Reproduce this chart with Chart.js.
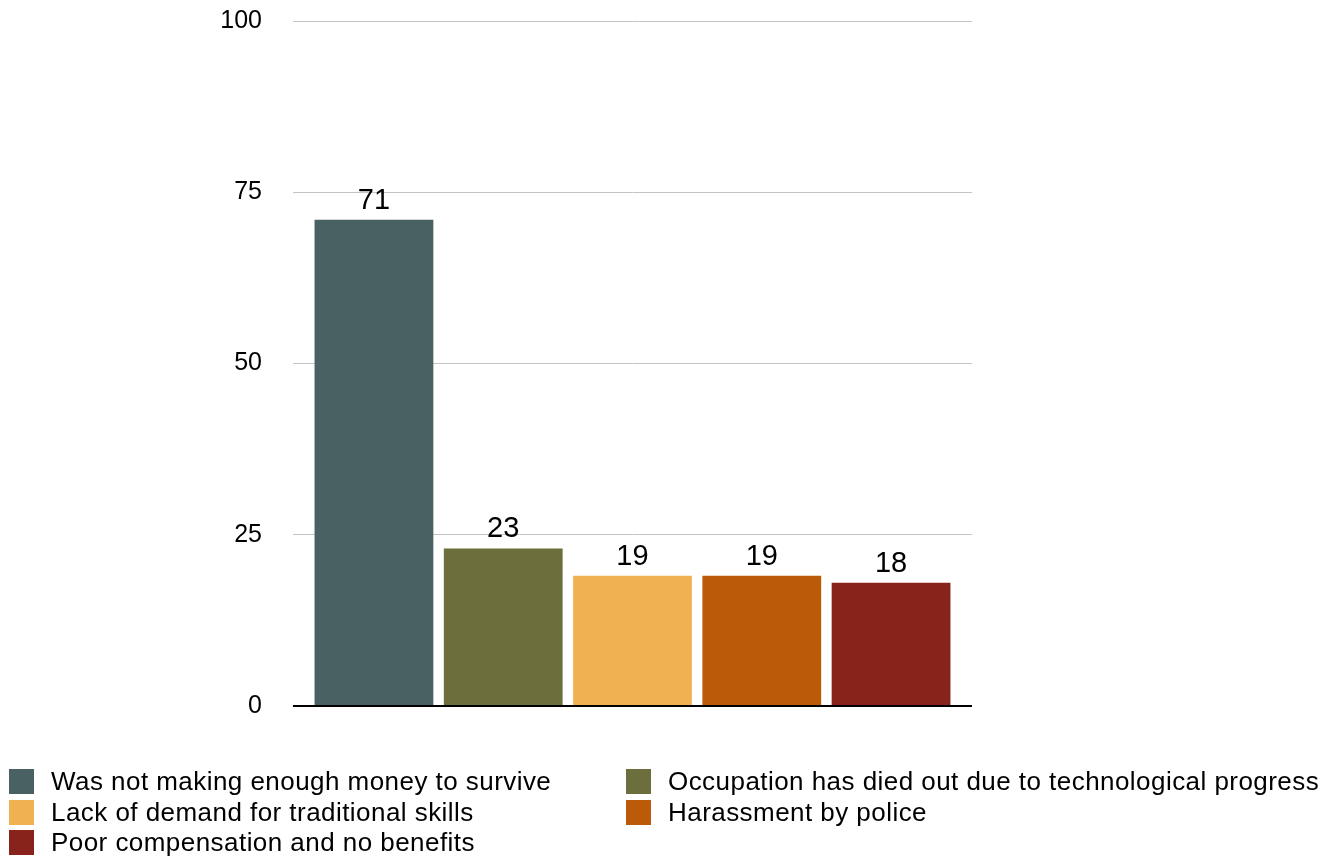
<!DOCTYPE html>
<html>
<head>
<meta charset="utf-8">
<script src="https://cdn.jsdelivr.net/npm/chart.js@4"></script>
<style>
  html, body { margin: 0; padding: 0; background: #fff; }
  #wrap { position: relative; width: 1341px; height: 860px; }
  canvas { position: absolute; left: 0; top: 0; }
  #legend { position: absolute; left: 0; top: 0; width: 1341px; height: 860px; pointer-events: none;
    font-family: "Liberation Sans", Arial, Helvetica, sans-serif; font-size: 26px; letter-spacing: 0.45px; color: #000; }
  .item { position: absolute; display: flex; align-items: center; height: 25px; white-space: nowrap; }
  .sw { width: 25px; height: 25px; margin-right: 17px; flex: none; }
</style>
</head>
<body>
<div id="wrap">
  <canvas id="c" width="1341" height="860"></canvas>
  <div id="legend"></div>
</div>
<script>
const categories = ['Reasons'];
const seriesLabels = [
  'Was not making enough money to survive',
  'Occupation has died out due to technological progress',
  'Lack of demand for traditional skills',
  'Harassment by police',
  'Poor compensation and no benefits'
];
const seriesValues = [71, 23, 19, 19, 18];
const seriesColors = ['#4a6163', '#6c6f3b', '#f0b250', '#bb5b09', '#88231c'];
const yTicks = [0, 25, 50, 75, 100];

const FONT = '"Liberation Sans", Arial, Helvetica, sans-serif';

const valueLabels = {
  id: 'valueLabels',
  afterDatasetsDraw(chart) {
    const ctx = chart.ctx;
    ctx.save();
    ctx.font = '29px ' + FONT;
    ctx.fillStyle = '#000';
    ctx.textAlign = 'center';
    ctx.textBaseline = 'alphabetic';
    chart.data.datasets.forEach((ds, i) => {
      const el = chart.getDatasetMeta(i).data[0];
      ctx.fillText(String(ds.data[0]), el.x, el.y - 11);
    });
    ctx.restore();
  }
};

new Chart(document.getElementById('c'), {
  type: 'bar',
  data: {
    labels: categories,
    datasets: seriesLabels.map((l, i) => ({
      label: l,
      data: [seriesValues[i]],
      backgroundColor: seriesColors[i],
      borderWidth: 0,
      categoryPercentage: 0.952,
      barPercentage: 0.919
    }))
  },
  options: {
    responsive: false,
    animation: false,
    layout: { padding: { left: 0, right: 369, top: 21, bottom: 154 } },
    plugins: { legend: { display: false }, tooltip: { enabled: false } },
    scales: {
      x: { display: false },
      y: {
        min: 0, max: 100,
        afterBuildTicks(scale) { scale.ticks = yTicks.map(v => ({ value: v })); },
        afterFit(scale) { scale.width = 293; scale.paddingTop = 0; scale.paddingBottom = 0; },
        border: { display: false },
        grid: {
          drawTicks: false,
          color: c => (c.tick && c.tick.value === 0) ? '#000' : '#c4c4c4',
          lineWidth: c => (c.tick && c.tick.value === 0) ? 2 : 1
        },
        ticks: { padding: 31, color: '#000', font: { family: FONT, size: 25 } }
      }
    }
  },
  plugins: [valueLabels]
});

const legend = document.getElementById('legend');
seriesLabels.forEach((l, i) => {
  const col = i % 2, row = Math.floor(i / 2);
  const d = document.createElement('div');
  d.className = 'item';
  d.style.left = (col === 0 ? 9 : 626) + 'px';
  d.style.top = (769 + row * 30.5) + 'px';
  const s = document.createElement('span');
  s.className = 'sw';
  s.style.background = seriesColors[i];
  const t = document.createElement('span');
  t.textContent = l;
  d.appendChild(s); d.appendChild(t);
  legend.appendChild(d);
});
</script>
</body>
</html>
